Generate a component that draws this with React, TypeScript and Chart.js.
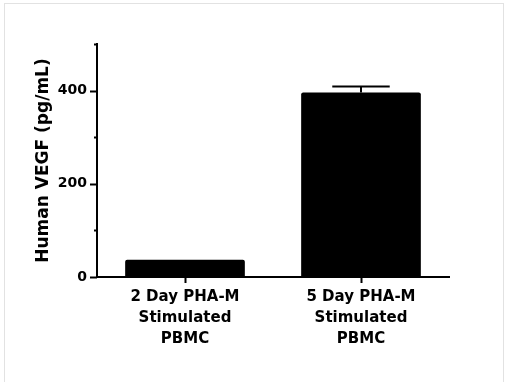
import React, { useEffect, useRef } from "react";
import { Chart, registerables } from "chart.js";

Chart.register(...registerables);

const categories: string[][] = [
  ["2 Day PHA-M", "Stimulated", "PBMC"],
  ["5 Day PHA-M", "Stimulated", "PBMC"],
];
const values: number[] = [37, 396];
const errors: number[] = [0, 13];
const yMax = 500;
const yStep = 100;
const labelledTicks: number[] = [0, 200, 400];
const yTitle = "Human VEGF (pg/mL)";

const FONT = "'DejaVu Sans', sans-serif";

const extrasPlugin = {
  id: "extras",
  afterDatasetsDraw(chart: any) {
    const ctx = chart.ctx;
    const x = chart.scales.x;
    const y = chart.scales.y;
    const meta = chart.getDatasetMeta(0);
    ctx.save();
    ctx.strokeStyle = "#000";
    ctx.lineWidth = 2;
    // error bars
    meta.data.forEach((bar: any, i: number) => {
      const e = errors[i];
      if (!e) return;
      const top = y.getPixelForValue(values[i] + e);
      const base = y.getPixelForValue(values[i]);
      const cx = bar.x;
      const half = bar.width * 0.24;
      ctx.beginPath();
      ctx.moveTo(cx, base);
      ctx.lineTo(cx, top);
      ctx.moveTo(cx - half, top);
      ctx.lineTo(cx + half, top);
      ctx.stroke();
    });
    // y ticks
    const axX = chart.chartArea.left;
    for (let v = 0; v <= yMax; v += yStep) {
      const py = Math.round(y.getPixelForValue(v)) + 0.5;
      const len = labelledTicks.includes(v) ? 7 : 3;
      ctx.beginPath();
      ctx.moveTo(axX - len, py);
      ctx.lineTo(axX, py);
      ctx.stroke();
    }
    // x ticks
    const axY = chart.chartArea.bottom;
    categories.forEach((_c, i) => {
      const px = Math.round(x.getPixelForValue(i)) + 0.5;
      ctx.beginPath();
      ctx.moveTo(px, axY);
      ctx.lineTo(px, axY + 6);
      ctx.stroke();
    });
    ctx.restore();
  },
};

export default function App() {
  const ref = useRef<HTMLCanvasElement | null>(null);
  useEffect(() => {
    if (!ref.current) return;
    const chart = new Chart(ref.current, {
      type: "bar",
      data: {
        labels: categories,
        datasets: [
          {
            data: values,
            backgroundColor: "#000",
            borderWidth: 0,
            borderRadius: 2,
            borderSkipped: "bottom",
            barPercentage: 0.68,
            categoryPercentage: 1,
          },
        ],
      },
      options: {
        animation: false,
        responsive: false,
        layout: { padding: { top: 44, right: 56, left: 0, bottom: 0 } },
        plugins: { legend: { display: false }, tooltip: { enabled: false } },
        scales: {
          x: {
            grid: { display: false, drawTicks: false },
            border: { display: true, color: "#000", width: 2 },
            ticks: {
              color: "#000",
              font: { family: FONT, size: 15, weight: "bold", lineHeight: 1.38 },
              padding: 10,
              maxRotation: 0,
              autoSkip: false,
            },
            afterFit: (s: any) => {
              s.height = 105;
            },
          },
          y: {
            min: 0,
            max: yMax,
            grid: { display: false, drawTicks: false },
            border: { display: true, color: "#000", width: 2 },
            ticks: {
              stepSize: yStep,
              color: "#000",
              padding: 10,
              font: { family: FONT, size: 14, weight: "bold" },
              callback: (v: any) => (labelledTicks.includes(Number(v)) ? String(v) : ""),
            },
            title: {
              display: true,
              text: yTitle,
              color: "#000",
              font: { family: FONT, size: 17, weight: "bold" },
              padding: { top: 33, bottom: 0 },
            },
            afterFit: (s: any) => {
              s.width = 97;
            },
          },
        },
      },
      plugins: [extrasPlugin],
    });
    return () => chart.destroy();
  }, []);
  return (
    <div
      style={{
        position: "fixed",
        left: 0,
        top: 0,
        width: 505,
        height: 382,
        background: "#fff",
      }}
    >
      <div
        style={{
          position: "absolute",
          left: 4,
          top: 3,
          width: 500,
          height: 400,
          border: "1px solid #e2e2e2",
          boxSizing: "border-box",
        }}
      />
      <canvas ref={ref} width={505} height={382} style={{ position: "absolute", left: 0, top: 0 }} />
    </div>
  );
}
